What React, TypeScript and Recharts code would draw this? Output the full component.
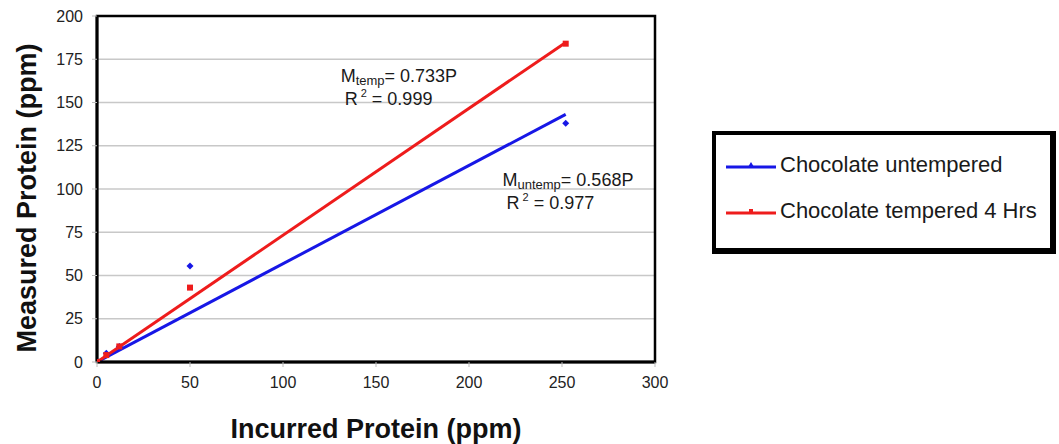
import React from 'react';
import {
  ComposedChart,
  Line,
  Scatter,
  XAxis,
  YAxis,
  CartesianGrid,
  Legend,
  ReferenceArea,
  ReferenceDot,
} from 'recharts';

// ---- data ----
const incurred = [0, 5, 12, 50, 252];
const untemperedMeasured = [0, 5, 9, 55.5, 138];
const temperedMeasured = [0, 4, 9, 43, 184];

const untemperedSlope = 0.568;
const temperedSlope = 0.733;
const fitRange = [0, 252];

const xTicks = [0, 50, 100, 150, 200, 250, 300];
const yTicks = [0, 25, 50, 75, 100, 125, 150, 175, 200];

const seriesNames = ['Chocolate untempered', 'Chocolate tempered 4 Hrs'];
const seriesColors = ['#1717e6', '#ee1c1c'];

const untemperedPts = incurred.map((x, i) => ({ x, y: untemperedMeasured[i] }));
const temperedPts = incurred.map((x, i) => ({ x, y: temperedMeasured[i] }));
const untemperedFit = fitRange.map((x) => ({ x, y: x * untemperedSlope }));
const temperedFit = fitRange.map((x) => ({ x, y: x * temperedSlope }));

const FONT = '"Liberation Sans", Arial, sans-serif';

const Diamond = (props: any) => {
  const { cx, cy, fill } = props;
  const s = 3.5;
  return (
    <path
      d={`M${cx},${cy - s}L${cx + s},${cy}L${cx},${cy + s}L${cx - s},${cy}Z`}
      fill={fill}
    />
  );
};

const Square = (props: any) => {
  const { cx, cy, fill } = props;
  const s = 3;
  return <rect x={cx - s} y={cy - s} width={2 * s} height={2 * s} fill={fill} />;
};

const makeAnno = (sub: string, eq: string, r2: string) => (props: any) => {
  const { cx, cy } = props;
  return (
    <g fontFamily={FONT} fill="#1a1a1a">
      <text x={cx} y={cy} fontSize={18}>
        M
        <tspan fontSize={13} dy={3}>
          {sub}
        </tspan>
        <tspan fontSize={18} dy={-3}>
          {eq}
        </tspan>
      </text>
      <text x={cx + 4} y={cy + 23} fontSize={18}>
        R
        <tspan fontSize={11} dy={-8}>
          {' 2'}
        </tspan>
        <tspan fontSize={18} dy={8}>
          {' = ' + r2}
        </tspan>
      </text>
    </g>
  );
};

const YTitle = (props: any) => {
  const { viewBox } = props;
  const cx = viewBox.x - 30;
  const cy = viewBox.y + viewBox.height / 2 + 9;
  return (
    <text
      x={cx}
      y={cy}
      transform={`rotate(-90, ${cx}, ${cy})`}
      textAnchor="middle"
      dominantBaseline="central"
      fontFamily={FONT}
      fontSize={27}
      fontWeight="bold"
      fill="#111"
    >
      Measured Protein (ppm)
    </text>
  );
};

const LegendBox = () => (
  <div
    style={{
      boxSizing: 'border-box',
      width: 344,
      height: 123,
      border: '4px solid #000',
      borderRightWidth: 6,
      borderBottomWidth: 6,
      background: '#fff',
      fontFamily: FONT,
      fontSize: 22,
      color: '#1a1a1a',
      padding: '17px 0 0 10px',
    }}
  >
    {seriesNames.map((name, i) => (
      <div
        key={name}
        style={{ display: 'flex', alignItems: 'center', height: 26, marginBottom: i === 0 ? 20 : 0 }}
      >
        <svg width={50} height={14} style={{ marginRight: 4 }}>
          <line x1={0} y1={9} x2={50} y2={9} stroke={seriesColors[i]} strokeWidth={3} />
          {i === 0 ? (
            <path d="M22,9L25,4L28,9Z" fill={seriesColors[i]} />
          ) : (
            <rect x={23} y={5} width={4} height={4} fill={seriesColors[i]} />
          )}
        </svg>
        <span>{name}</span>
      </div>
    ))}
  </div>
);

export default function App() {
  return (
    <div style={{ position: 'absolute', left: 0, top: 0, width: 1059, height: 444, background: '#fff' }}>
      <ComposedChart
        width={1059}
        height={444}
        margin={{ top: 16, right: 404, bottom: 40, left: 57 }}
      >
        <CartesianGrid vertical={false} stroke="#c8c8c8" strokeWidth={1.5} />
        <XAxis
          type="number"
          dataKey="x"
          domain={[0, 300]}
          ticks={xTicks}
          allowDataOverflow
          axisLine={{ stroke: '#000', strokeWidth: 3 }}
          tickLine={{ stroke: '#bbb' }}
          tickSize={5}
          tickMargin={10}
          tick={{ fontSize: 16, fill: '#222', fontFamily: FONT }}
          height={42}
          label={{
            value: 'Incurred Protein (ppm)',
            position: 'insideBottom',
            offset: -34,
            style: { fontSize: 27, fontWeight: 'bold', fill: '#111', fontFamily: FONT },
          }}
        />
        <YAxis
          type="number"
          domain={[0, 200]}
          ticks={yTicks}
          allowDataOverflow
          axisLine={{ stroke: '#000', strokeWidth: 3 }}
          tickLine={{ stroke: '#bbb' }}
          tickSize={5}
          tickMargin={9}
          tick={{ fontSize: 16, fill: '#222', fontFamily: FONT }}
          width={40}
          label={{ value: 'Measured Protein (ppm)', content: <YTitle /> }}
        />
        <ReferenceArea
          x1={0}
          x2={300}
          y1={0}
          y2={200}
          fill="none"
          stroke="#000"
          strokeWidth={2.5}
          ifOverflow="visible"
        />
        <Line
          data={untemperedFit}
          dataKey="y"
          stroke={seriesColors[0]}
          strokeWidth={3}
          dot={false}
          isAnimationActive={false}
          legendType="none"
        />
        <Line
          data={temperedFit}
          dataKey="y"
          stroke={seriesColors[1]}
          strokeWidth={3}
          dot={false}
          isAnimationActive={false}
          legendType="none"
        />
        <Scatter
          data={untemperedPts}
          dataKey="y"
          fill={seriesColors[0]}
          shape={<Diamond />}
          isAnimationActive={false}
        />
        <Scatter
          data={temperedPts}
          dataKey="y"
          fill={seriesColors[1]}
          shape={<Square />}
          isAnimationActive={false}
        />
        <ReferenceDot
          x={131}
          y={162}
          r={0}
          ifOverflow="visible"
          shape={makeAnno('temp', '= 0.733P', '0.999')}
        />
        <ReferenceDot
          x={218}
          y={102}
          r={0}
          ifOverflow="visible"
          shape={makeAnno('untemp', '= 0.568P', '0.977')}
        />
        <Legend
          layout="horizontal"
          align="center"
          verticalAlign="middle"
          wrapperStyle={{ left: 712, top: 131, width: 344, height: 123 }}
          content={() => <LegendBox />}
        />
      </ComposedChart>
    </div>
  );
}
